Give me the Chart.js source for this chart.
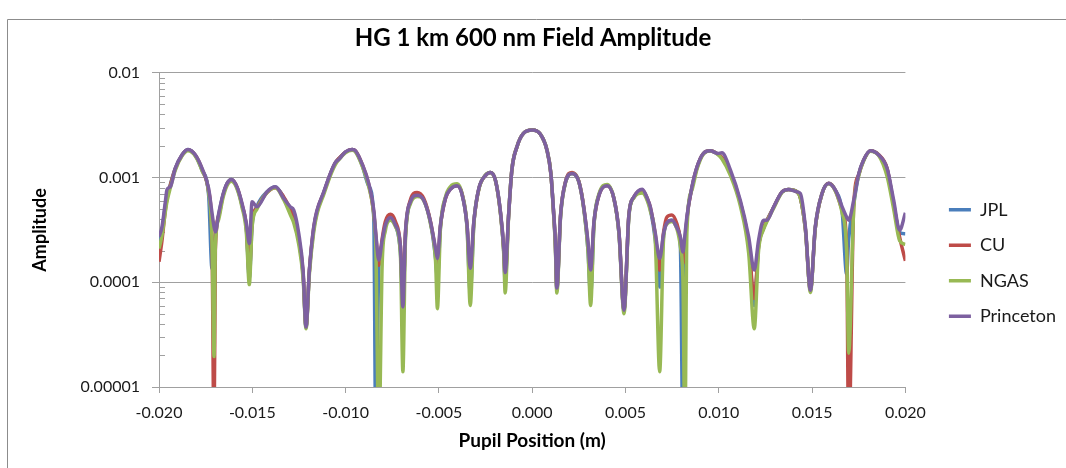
<!DOCTYPE html>
<html><head><meta charset="utf-8">
<script src="https://cdn.jsdelivr.net/npm/chart.js@4/dist/chart.umd.min.js"></script>
<style>html,body{margin:0;padding:0;background:#fff}</style>
</head><body>
<canvas id="c" width="1066" height="468"></canvas>
<script>
const seriesNames = ['JPL', 'CU', 'NGAS', 'Princeton'];
const seriesColors = ['#4A7EBB', '#BE4B48', '#98B954', '#7D60A0'];
const xTicks = [-0.02, -0.015, -0.01, -0.005, 0, 0.005, 0.01, 0.015, 0.02];
const yTicks = [1e-5, 1e-4, 1e-3, 1e-2];
const yTickLabels = ['0.00001', '0.0001', '0.001', '0.01'];

const pupilX = [
-0.02000,-0.01984,-0.01966,-0.01957,-0.01939,-0.01913,-0.01877,-0.01845,-0.01805,-0.01769,
-0.01734,-0.01716,-0.01705,-0.01698,-0.01680,-0.01658,-0.01635,-0.01612,-0.01582,-0.01555,
-0.01532,-0.01516,-0.01501,-0.01475,-0.01421,-0.01376,-0.01331,-0.01296,-0.01278,-0.01251,
-0.01228,-0.01212,-0.01194,-0.01171,-0.01153,-0.01117,-0.01082,-0.01055,-0.01036,-0.01001,
-0.00965,-0.00947,-0.00912,-0.00876,-0.00849,-0.00838,-0.00822,-0.00804,-0.00787,-0.00760,
-0.00733,-0.00706,-0.00693,-0.00679,-0.00653,-0.00617,-0.00581,-0.00545,-0.00518,-0.00508,
-0.00492,-0.00465,-0.00438,-0.00402,-0.00375,-0.00349,-0.00332,-0.00313,-0.00286,-0.00250,
-0.00224,-0.00197,-0.00170,-0.00152,-0.00145,-0.00127,-0.00109,-0.00082,-0.00047,0.00000,
0.00043,0.00079,0.00100,0.00114,0.00124,0.00132,0.00152,0.00179,0.00214,0.00250,
0.00277,0.00299,0.00313,0.00331,0.00358,0.00402,0.00438,0.00465,0.00492,0.00518,
0.00545,0.00590,0.00617,0.00633,0.00660,0.00683,0.00704,0.00722,0.00749,0.00776,
0.00794,0.00808,0.00818,0.00829,0.00856,0.00883,0.00918,0.00954,0.00994,0.01017,
0.01062,0.01115,0.01160,0.01190,0.01213,0.01240,0.01258,0.01294,0.01339,0.01374,
0.01419,0.01437,0.01464,0.01491,0.01517,0.01553,0.01589,0.01625,0.01661,0.01685,
0.01696,0.01723,0.01750,0.01776,0.01812,0.01857,0.01902,0.01937,0.01969,0.02000
];

const jplAmp = [
2.4e-4,3.1e-4,5.4e-4,6.6e-4,8.6e-4,1.22e-3,1.64e-3,1.85e-3,1.62e-3,1.17e-3,
6.8e-4,1.35e-4,1.8e-4,2.8e-4,4.4e-4,6.7e-4,8.8e-4,9.6e-4,8.0e-4,5.4e-4,
3.3e-4,1.1e-4,3.5e-4,5.3e-4,7.3e-4,8.1e-4,6.4e-4,4.6e-4,3.9e-4,2.5e-4,
1.2e-4,3.7e-5,1.3e-4,3.2e-4,4.7e-4,7.2e-4,1.08e-3,1.38e-3,1.52e-3,1.75e-3,
1.85e-3,1.79e-3,1.32e-3,8.3e-4,4.1e-4,3.0e-6,1.4e-4,2.3e-4,3.4e-4,4.1e-4,
3.5e-4,1.9e-4,6.0e-5,2.8e-4,5.9e-4,6.9e-4,6.1e-4,3.7e-4,1.7e-4,1.1e-4,
3.3e-4,6.4e-4,7.8e-4,8.4e-4,6.8e-4,3.3e-4,8.0e-5,3.6e-4,7.8e-4,1.05e-3,
1.12e-3,9.4e-4,4.6e-4,1.9e-4,1.0e-4,4.2e-4,1.18e-3,1.96e-3,2.64e-3,2.84e-3,
2.60e-3,1.83e-3,1.09e-3,4.8e-4,2.3e-4,8.5e-5,4.3e-4,9.1e-4,1.09e-3,9.1e-4,
5.0e-4,2.0e-4,7.5e-5,3.6e-4,6.8e-4,8.4e-4,6.3e-4,2.9e-4,5.4e-5,4.3e-4,
6.5e-4,7.3e-4,6.2e-4,5.0e-4,2.5e-4,9.0e-5,2.8e-4,3.7e-4,3.9e-4,3.3e-4,
2.2e-4,3.0e-6,1.6e-4,3.9e-4,8.0e-4,1.25e-3,1.70e-3,1.80e-3,1.68e-3,1.55e-3,
1.12e-3,5.8e-4,2.3e-4,6.0e-5,2.2e-4,3.3e-4,3.9e-4,5.2e-4,7.3e-4,7.7e-4,
7.3e-4,6.4e-4,3.2e-4,8.4e-5,3.3e-4,7.0e-4,8.8e-4,7.5e-4,4.7e-4,1.2e-4,
2.6e-4,5.6e-4,1.07e-3,1.46e-3,1.80e-3,1.64e-3,1.20e-3,5.6e-4,3.0e-4,2.9e-4
];

const cuAmp = [
1.57e-4,2.5e-4,4.9e-4,6.3e-4,8.5e-4,1.21e-3,1.63e-3,1.84e-3,1.63e-3,1.20e-3,
7.4e-4,2.6e-4,3.0e-6,2.0e-4,4.3e-4,6.6e-4,8.7e-4,9.5e-4,8.1e-4,5.5e-4,
3.4e-4,1.2e-4,3.8e-4,5.2e-4,7.2e-4,8.0e-4,6.5e-4,5.0e-4,4.2e-4,2.6e-4,
1.25e-4,3.8e-5,1.3e-4,3.3e-4,4.8e-4,7.2e-4,1.08e-3,1.38e-3,1.52e-3,1.75e-3,
1.85e-3,1.80e-3,1.35e-3,8.6e-4,4.6e-4,2.8e-4,1.45e-4,2.6e-4,3.8e-4,4.45e-4,
3.8e-4,2.2e-4,7.0e-5,3.0e-4,6.1e-4,7.2e-4,6.3e-4,3.8e-4,2.0e-4,1.5e-4,
3.4e-4,6.3e-4,7.8e-4,8.4e-4,6.9e-4,3.5e-4,1.2e-4,3.7e-4,7.8e-4,1.05e-3,
1.12e-3,9.4e-4,4.6e-4,2.0e-4,1.1e-4,4.2e-4,1.18e-3,1.96e-3,2.64e-3,2.84e-3,
2.60e-3,1.83e-3,1.09e-3,4.8e-4,2.4e-4,8.8e-5,4.4e-4,9.2e-4,1.12e-3,9.2e-4,
5.1e-4,2.3e-4,1.2e-4,3.7e-4,6.8e-4,8.4e-4,6.3e-4,3.0e-4,5.5e-5,4.4e-4,
6.5e-4,7.6e-4,6.3e-4,5.2e-4,2.8e-4,1.3e-4,3.0e-4,4.2e-4,4.4e-4,3.6e-4,
2.6e-4,1.5e-4,2.0e-4,4.0e-4,8.0e-4,1.25e-3,1.70e-3,1.80e-3,1.68e-3,1.55e-3,
1.12e-3,5.8e-4,2.4e-4,7.0e-5,2.2e-4,3.3e-4,3.9e-4,5.2e-4,7.3e-4,7.7e-4,
7.3e-4,6.4e-4,3.2e-4,8.4e-5,3.3e-4,7.0e-4,8.8e-4,7.5e-4,4.9e-4,2.2e-4,
3.0e-6,5.4e-4,1.07e-3,1.46e-3,1.80e-3,1.65e-3,1.22e-3,5.5e-4,2.7e-4,1.6e-4
];

const ngasAmp = [
2.1e-4,2.8e-4,4.7e-4,5.9e-4,8.0e-4,1.17e-3,1.60e-3,1.80e-3,1.60e-3,1.16e-3,
7.2e-4,2.5e-4,1.95e-5,2.2e-4,4.0e-4,6.3e-4,8.4e-4,9.2e-4,7.8e-4,5.2e-4,
3.0e-4,9.5e-5,3.4e-4,5.0e-4,7.2e-4,8.0e-4,6.1e-4,4.4e-4,3.7e-4,2.3e-4,
1.1e-4,3.6e-5,1.2e-4,3.0e-4,4.5e-4,6.9e-4,1.04e-3,1.33e-3,1.48e-3,1.72e-3,
1.82e-3,1.76e-3,1.30e-3,8.2e-4,4.4e-4,2.2e-4,3.0e-6,1.5e-4,3.1e-4,3.9e-4,
3.4e-4,1.8e-4,1.4e-5,2.6e-4,5.6e-4,6.6e-4,6.0e-4,3.6e-4,1.6e-4,5.6e-5,
3.2e-4,6.5e-4,8.2e-4,8.7e-4,6.9e-4,3.3e-4,6.0e-5,3.5e-4,7.7e-4,1.06e-3,
1.12e-3,9.4e-4,4.5e-4,1.8e-4,7.9e-5,4.1e-4,1.18e-3,1.96e-3,2.64e-3,2.84e-3,
2.60e-3,1.83e-3,1.09e-3,4.7e-4,2.2e-4,7.9e-5,4.2e-4,9.0e-4,1.09e-3,9.1e-4,
4.9e-4,2.0e-4,6.0e-5,3.5e-4,7.0e-4,8.6e-4,6.3e-4,2.9e-4,5.0e-5,4.2e-4,
6.4e-4,7.1e-4,6.0e-4,4.8e-4,2.4e-4,1.4e-5,2.6e-4,3.6e-4,3.8e-4,3.2e-4,
2.2e-4,1.0e-4,3.0e-6,3.0e-4,7.6e-4,1.2e-3,1.68e-3,1.79e-3,1.66e-3,1.50e-3,
1.05e-3,5.4e-4,1.9e-4,3.6e-5,2.0e-4,3.2e-4,3.8e-4,5.1e-4,7.2e-4,7.7e-4,
7.3e-4,6.4e-4,3.2e-4,8.0e-5,3.3e-4,7.0e-4,8.7e-4,7.4e-4,4.6e-4,2.0e-4,
2.1e-5,5.0e-4,1.04e-3,1.44e-3,1.78e-3,1.62e-3,1.02e-3,5.0e-4,2.5e-4,2.3e-4
];

const princetonAmp = [
2.72e-4,3.38e-4,5.86e-4,7.7e-4,8.15e-4,1.22e-3,1.64e-3,1.85e-3,1.64e-3,1.22e-3,
7.87e-4,4.6e-4,3.4e-4,3.03e-4,4.54e-4,6.79e-4,8.79e-4,9.59e-4,8.15e-4,5.66e-4,
3.65e-4,2.35e-4,5.86e-4,5.25e-4,7.3e-4,8.15e-4,6.31e-4,5.25e-4,4.89e-4,2.92e-4,
1.31e-4,3.75e-5,1.31e-4,3.38e-4,4.89e-4,7.3e-4,1.09e-3,1.39e-3,1.49e-3,1.76e-3,
1.85e-3,1.80e-3,1.36e-3,8.79e-4,4.89e-4,2.9e-4,1.63e-4,2.52e-4,3.51e-4,4.16e-4,
3.51e-4,2.18e-4,5.82e-5,3.03e-4,5.86e-4,6.79e-4,6.08e-4,3.78e-4,2.10e-4,1.69e-4,
3.51e-4,6.31e-4,7.75e-4,8.33e-4,6.79e-4,3.51e-4,1.36e-4,3.78e-4,7.87e-4,1.05e-3,
1.12e-3,9.44e-4,4.7e-4,2.10e-4,1.24e-4,4.22e-4,1.18e-3,1.96e-3,2.64e-3,2.84e-3,
2.60e-3,1.83e-3,1.09e-3,4.89e-4,2.5e-4,8.8e-5,4.38e-4,9.1e-4,1.09e-3,9.1e-4,
5.07e-4,2.43e-4,1.31e-4,3.78e-4,6.79e-4,8.33e-4,6.31e-4,3.03e-4,5.42e-5,4.38e-4,
6.54e-4,7.75e-4,6.31e-4,5.25e-4,2.92e-4,1.69e-4,2.92e-4,3.7e-4,3.92e-4,3.3e-4,
2.7e-4,1.95e-4,2.8e-4,4.22e-4,8.15e-4,1.26e-3,1.70e-3,1.80e-3,1.70e-3,1.72e-3,
1.18e-3,6.08e-4,2.72e-4,1.31e-4,2.52e-4,3.92e-4,3.92e-4,5.25e-4,7.3e-4,7.7e-4,
7.3e-4,7.05e-4,3.38e-4,8.4e-5,3.38e-4,7.05e-4,8.79e-4,7.58e-4,5.25e-4,4.2e-4,
3.92e-4,6.08e-4,1.09e-3,1.47e-3,1.80e-3,1.64e-3,1.22e-3,6.08e-4,3.15e-4,4.6e-4
];

const seriesValues = [jplAmp, cuAmp, ngasAmp, princetonAmp];
const drawOrder = [4, 3, 2, 1];

Chart.defaults.font.family = 'Lato, "Open Sans", sans-serif';
Chart.defaults.color = '#1a1a1a';

const framePlugin = {
  id: 'frame',
  beforeDraw(chart) {
    const ctx = chart.ctx;
    ctx.save();
    ctx.fillStyle = '#ffffff';
    ctx.fillRect(0, 0, chart.width, chart.height);
    ctx.strokeStyle = '#8c8c8c';
    ctx.lineWidth = 1;
    ctx.beginPath();
    ctx.moveTo(7.5, chart.height);
    ctx.lineTo(7.5, 19.5);
    ctx.lineTo(chart.width, 19.5);
    ctx.stroke();
    ctx.restore();
  }
};

const minorTickPlugin = {
  id: 'minorTicks',
  beforeDatasetsDraw(chart) {
    const ys = chart.scales.y;
    const left = chart.chartArea.left;
    const ctx = chart.ctx;
    ctx.save();
    ctx.strokeStyle = '#a0a0a0';
    ctx.lineWidth = 1;
    ctx.beginPath();
    for (let i = 0; i < yTicks.length - 1; i++) {
      for (let m = 2; m <= 9; m++) {
        const py = Math.round(ys.getPixelForValue(yTicks[i] * m)) + 0.5;
        ctx.moveTo(left, py);
        ctx.lineTo(left + 6, py);
      }
    }
    ctx.stroke();
    ctx.restore();
  }
};

const datasets = seriesNames.map((name, i) => ({
  label: name,
  data: pupilX.map((x, k) => ({ x: x, y: seriesValues[i][k] })),
  borderColor: seriesColors[i],
  backgroundColor: seriesColors[i],
  borderWidth: 3.5,
  pointRadius: 0,
  pointHoverRadius: 0,
  pointStyle: 'line',
  cubicInterpolationMode: 'monotone',
  fill: false,
  order: drawOrder[i]
}));

new Chart(document.getElementById('c'), {
  type: 'line',
  data: { datasets: datasets },
  plugins: [framePlugin, minorTickPlugin],
  options: {
    responsive: false,
    animation: false,
    events: [],
    layout: { padding: { left: 0, right: 0, top: 0, bottom: 0 } },
    plugins: {
      tooltip: { enabled: false },
      title: {
        display: true,
        text: 'HG 1 km 600 nm Field Amplitude',
        color: '#000',
        font: { size: 24, weight: 'bold' },
        padding: { top: 24, bottom: 20 }
      },
      legend: {
        position: 'right',
        align: 'center',
        title: { display: true, text: ' ', color: 'rgba(0,0,0,0)', font: { size: 10 }, padding: { top: 22, bottom: 24 } },
        labels: {
          usePointStyle: true,
          pointStyleWidth: 22,
          padding: 17.5,
          font: { size: 18 },
          color: '#1a1a1a',
          sort: (a, b) => a.datasetIndex - b.datasetIndex
        }
      }
    },
    scales: {
      x: {
        type: 'linear',
        min: -0.02,
        max: 0.02,
        afterBuildTicks: s => { s.ticks = xTicks.map(v => ({ value: v })); },
        afterFit: s => { s.height = 81; },
        ticks: {
          padding: 10,
          font: { size: 16 },
          color: '#1a1a1a',
          maxRotation: 0,
          autoSkip: false,
          callback: v => (Math.abs(v) < 1e-12 ? 0 : v).toFixed(3)
        },
        grid: { drawOnChartArea: false, drawTicks: true, tickLength: 6, color: '#a0a0a0' },
        border: { display: true, color: '#a0a0a0' },
        title: {
          display: true,
          text: 'Pupil Position (m)',
          color: '#000',
          font: { size: 19, weight: 'bold' },
          padding: { top: 4, bottom: 16 }
        }
      },
      y: {
        type: 'logarithmic',
        min: 1e-5,
        max: 1e-2,
        afterBuildTicks: s => { s.ticks = yTicks.map(v => ({ value: v, major: true })); },
        afterFit: s => { s.width = 159; },
        ticks: {
          padding: 12,
          font: { size: 16 },
          color: '#1a1a1a',
          autoSkip: false,
          callback: (v, i) => yTickLabels[i]
        },
        grid: { color: '#a0a0a0', tickLength: 7, drawTicks: true },
        border: { display: true, color: '#a0a0a0' },
        title: {
          display: true,
          text: 'Amplitude',
          color: '#000',
          font: { size: 18, weight: 'bold' },
          padding: { top: 29, bottom: 0 }
        }
      },
      gap: {
        type: 'linear',
        position: 'right',
        display: true,
        grid: { display: false, drawTicks: false },
        ticks: { display: false },
        border: { display: false },
        afterFit: s => { s.width = 26; }
      }
    }
  }
});
</script>
</body></html>
